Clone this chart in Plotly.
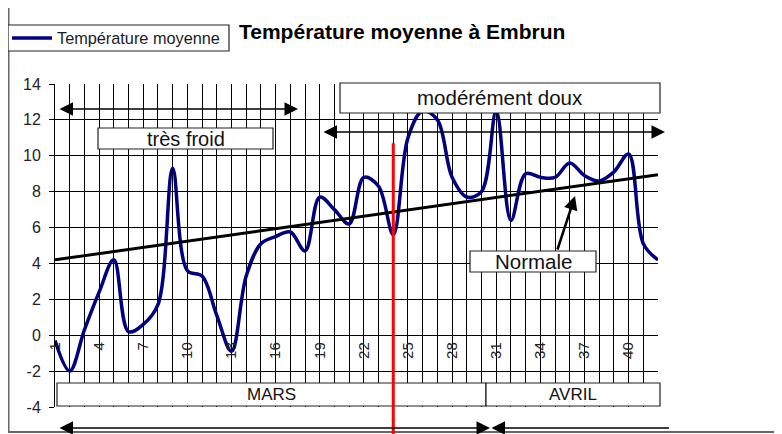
import plotly.graph_objects as go

# ---------------- data ----------------
days = list(range(1, 43))
temperature = [-0.3, -2.0, 0.3, 2.4, 4.2, 0.2, 0.6, 1.7, 9.3, 3.6,
               3.3, 1.1, -0.9, 3.3, 5.1, 5.5, 5.75, 4.7, 7.7, 7.0,
               6.2, 8.8, 8.3, 5.6, 11.0, 12.5, 12.0, 8.8, 7.7, 8.0,
               12.5, 6.4, 9.0, 8.8, 8.8, 9.6, 8.9, 8.6, 9.1, 10.1,
               5.1, 4.2]
normal_days = [1, 42]
normal_values = [4.2, 8.95]
x_tick_labels = [str(d) if (d - 1) % 3 == 0 else "" for d in days]
y_tick_values = [-4, -2, 0, 2, 4, 6, 8, 10, 12, 14]
y_tick_labels = ["-4", "-2", "0", "2", "4", "6", "8", "10", "12", "14"]
split_day = 24
split_top = 10.7

# ---------------- geometry ----------------
# the page body adds an 8 px margin, so the figure is drawn 8 px smaller
W, H = 774, 426
L, R, T, B = 47, 124, 76, 27
PW, PH = W - L - R, H - T - B
OFF = 8
XMIN, XMAX = 1, 42
YMIN, YMAX = -4, 14
FONT = "Liberation Sans, Arial, sans-serif"


def px(x):  # window pixel -> paper
    return (x - OFF - L) / PW


def py(y):
    return (H - B - (y - OFF)) / PH


def dx(v):
    return (v - XMIN) / (XMAX - XMIN)


def dy(v):
    return (v - YMIN) / (YMAX - YMIN)


fig = go.Figure()
fig.add_trace(go.Scatter(x=days, y=temperature, mode="lines",
                         line=dict(color="#000080", width=3.5, shape="spline", smoothing=1),
                         name="Température moyenne", showlegend=False))
fig.add_trace(go.Scatter(x=normal_days, y=normal_values, mode="lines",
                         line=dict(color="black", width=3), showlegend=False))

shapes = []
annotations = []


def box(x0, y0, x1, y1, text=None, size=19):
    shapes.append(dict(type="rect", xref="paper", yref="paper", layer="above",
                       x0=px(x0), x1=px(x1), y0=py(y1), y1=py(y0),
                       fillcolor="white", line=dict(color="#222", width=1.2)))
    if text:
        annotations.append(dict(xref="paper", yref="paper", x=px((x0 + x1) / 2),
                                y=py((y0 + y1) / 2), text=text, showarrow=False,
                                xanchor="center", yanchor="middle",
                                font=dict(family=FONT, size=size, color="#111")))


def arrow(x_head, y_head, x_tail, y_tail, side="end+start", width=1.5, size=1.8):
    annotations.append(dict(xref="paper", yref="paper", x=px(x_head), y=py(y_head),
                            axref="pixel", ayref="pixel",
                            ax=x_tail - x_head, ay=y_tail - y_head, text="",
                            showarrow=True, arrowside=side, arrowhead=2, startarrowhead=2,
                            arrowsize=size, startarrowsize=size, arrowwidth=width,
                            arrowcolor="black", standoff=0, startstandoff=0))


# outer chart border
shapes.append(dict(type="rect", xref="paper", yref="paper", layer="below",
                   x0=px(8.5), x1=px(800), y0=py(432), y1=py(4),
                   line=dict(color="#666", width=2)))

# text boxes
box(98, 128, 273, 149, "très froid", 20)
box(340, 83, 660, 113, "modérément doux", 20.5)
box(470, 251, 596, 272, "Normale", 20.5)
box(57, 383, 486, 406, "MARS", 17)
box(486, 383, 660, 406, "AVRIL", 17)

# legend
box(8, 25, 229, 51)
shapes.append(dict(type="line", xref="paper", yref="paper", layer="above",
                   x0=px(12), x1=px(52), y0=py(38), y1=py(38),
                   line=dict(color="#000080", width=3.5)))
annotations.append(dict(xref="paper", yref="paper", x=px(55), y=py(38),
                        text="Température moyenne", showarrow=False,
                        xanchor="left", yanchor="middle",
                        font=dict(family=FONT, size=16.3, color="#1a1a2a")))

# title
annotations.append(dict(xref="paper", yref="paper", x=px(237), y=py(31),
                        text="<b>Température moyenne à Embrun</b>", showarrow=False,
                        xanchor="left", yanchor="middle",
                        font=dict(family=FONT, size=21, color="black")))

# range arrows
arrow(298, 109, 58, 109)
arrow(665, 132, 322, 132)
arrow(490, 428, 58, 428)
arrow(669, 428, 490, 428, side="start")
# Normale pointer
arrow(575, 196, 557, 251, side="end", width=2.5, size=1.1)

# red separation line
shapes.append(dict(type="line", xref="paper", yref="paper", layer="above",
                   x0=dx(split_day), x1=dx(split_day), y0=dy(split_top), y1=py(445),
                   line=dict(color="#ff0000", width=3)))

fig.update_layout(
    width=W, height=H,
    margin=dict(l=L, r=R, t=T, b=B, autoexpand=False),
    paper_bgcolor="white", plot_bgcolor="white",
    showlegend=False,
    shapes=shapes, annotations=annotations,
    font=dict(family=FONT, color="#222"),
)
fig.update_xaxes(range=[XMIN, XMAX], domain=[0, 1], anchor="free", position=dy(0),
                 tickmode="array", tickvals=days, ticktext=x_tick_labels,
                 tickangle=-90, tickfont=dict(family=FONT, size=15, color="#222"),
                 showgrid=True, gridcolor="black", gridwidth=1,
                 showline=True, linecolor="black", linewidth=1,
                 zeroline=False, ticks="", automargin=False)
fig.update_yaxes(range=[YMIN, YMAX], domain=[0, 1],
                 tickmode="array", tickvals=y_tick_values, ticktext=y_tick_labels,
                 tickfont=dict(family=FONT, size=16, color="#222"),
                 showgrid=True, gridcolor="black", gridwidth=1,
                 showline=True, linecolor="black", linewidth=1,
                 zeroline=False, ticks="outside", ticklen=5, tickcolor="black",
                 ticklabelstandoff=5, automargin=False)

fig.write_html("out.html")
